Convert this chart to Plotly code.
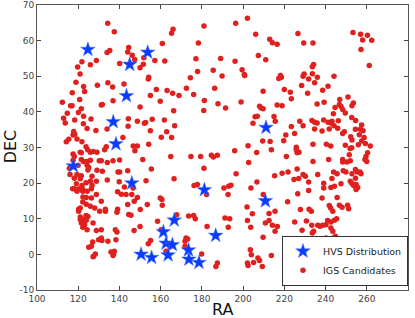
import plotly.graph_objects as go

# HVS Distribution (blue stars)
hvs_ra = [124.7, 145.0, 153.7, 143.4, 137.0, 138.3, 117.6, 146.0, 181.2, 166.6, 161.3,
          162.6, 165.7, 150.5, 155.6, 163.6, 173.5, 173.7, 178.6, 186.7, 210.8, 211.1]
hvs_dec = [57.5, 53.3, 56.7, 44.5, 37.2, 31.0, 24.8, 20.0, 18.1, 9.6, 6.3,
           3.1, 2.7, 0.0, -0.9, -0.2, 1.2, -1.4, -2.3, 5.3, 15.0, 35.6]

# IGS Candidates (red dots)
igs_ra = [
    # upper-left
    134.3, 137.5, 135.3, 134.0, 140.1, 144.5, 144.0, 146.2, 147.4, 121.8, 119.7, 125.9, 128.8,
    120.9, 118.9, 122.6, 123.1, 129.3, 134.4, 136.7, 142.2, 117.1, 112.3, 120.7, 116.3, 117.0,
    121.5, 131.7, 131.2, 136.9, 114.7, 120.1, 112.9, 113.7, 118.3, 122.6, 126.2, 144.3, 122.5,
    117.8, 124.3, 128.6, 134.0, 144.2, 117.5, 118.3, 141.7, 115.4, 114.2, 119.4, 121.8, 123.8,
    133.6,
    # upper mid-left
    166.0, 165.3, 181.0, 160.8, 178.3, 151.8, 151.6, 150.0, 157.2, 162.0, 177.1, 189.1, 185.5,
    177.9, 189.8, 154.2, 154.0, 174.4, 157.9, 163.1, 165.8, 168.9, 172.5, 176.0, 186.2, 155.0,
    159.8, 181.2, 187.8, 150.0, 166.3, 180.9, 155.9, 161.8, 148.7, 152.1, 152.7, 166.8, 155.0,
    162.9, 160.3, 165.3, 154.2, 146.7, 148.7,
    # upper mid-right
    202.1, 196.4, 206.1, 226.6, 212.9, 214.2, 216.5, 229.4, 233.9, 207.4, 211.0, 196.1, 199.5,
    200.6, 200.8, 218.1, 217.3, 218.6, 229.6, 229.1, 231.8, 234.2, 233.6, 233.6, 234.7, 228.4,
    220.0, 222.9, 231.3, 223.4, 209.7, 199.0, 191.5, 208.0, 208.7, 209.7, 216.5, 218.9, 205.8,
    206.9, 215.0, 215.6, 204.8, 227.5, 233.4, 234.7, 229.1, 223.4, 220.7, 225.0, 234.7, 209.5,
    213.1, 219.7, 202.4, 225.8, 233.9,
    # upper right
    253.3, 257.0, 260.3, 258.0, 262.4, 257.2, 261.2, 236.0, 244.1, 241.2, 238.6, 250.9, 246.9,
    239.3, 235.9, 253.5, 252.8, 246.7, 247.5, 244.6, 248.3, 249.6, 243.8, 252.7, 254.6, 239.1,
    243.1, 241.2, 242.8, 246.2, 235.9, 244.1, 241.8, 245.9, 257.5, 256.9, 258.2, 254.5, 238.3,
    249.1, 248.3, 256.4, 258.7, 252.2, 252.8, 257.5, 240.4, 242.5, 249.6, 252.7, 255.9, 259.3,
    261.7,
    # lower left
    117.5, 118.1, 121.0, 121.5, 124.6, 125.9, 127.3, 129.1, 132.8, 117.5, 121.5, 122.6, 124.3,
    125.9, 130.2, 131.2, 134.1, 136.9, 140.1, 115.7, 119.9, 124.3, 125.1, 124.7, 129.1, 131.7,
    139.3, 140.1, 144.0, 116.0, 119.4, 121.5, 118.1, 121.0, 126.7, 134.1, 123.8, 125.9, 128.8,
    119.1, 139.9, 121.8, 126.7, 142.4, 117.3, 118.1, 120.5, 122.2, 122.2, 126.4, 124.3, 119.4,
    128.8, 139.1, 140.9, 143.2, 123.9, 126.4, 122.3, 144.0, 131.2, 122.2, 123.9, 125.9, 128.0,
    133.2, 133.2, 139.1, 138.8, 120.2, 121.0, 120.2, 130.4, 144.5, 121.0, 123.8, 124.7, 122.3,
    123.9, 121.0, 127.2, 121.5, 123.1, 122.2, 124.3, 128.8, 131.2, 138.8, 138.0, 131.2, 129.9,
    131.5, 134.4, 138.3, 127.0, 126.4, 125.1, 135.9, 137.2, 136.9, 137.5, 127.5, 128.3, 127.2,
    # lower mid-left
    147.5, 151.3, 164.9, 174.7, 179.4, 184.6, 185.6, 187.5, 155.5, 181.0, 152.9, 166.5, 146.6,
    176.2, 177.8, 182.3, 146.0, 147.2, 148.7, 159.8, 160.6, 160.8, 153.5, 150.1, 145.6, 158.5,
    167.8, 173.6, 176.0, 176.8, 182.5, 150.0, 147.1, 160.2, 172.3, 173.1, 171.8, 155.1, 154.0,
    164.8, 171.8, 162.6, 179.9, 187.5, 186.8,
    # lower mid-right
    195.9, 206.6, 213.7, 221.0, 225.8, 227.1, 226.2, 233.9, 202.7, 196.6, 215.3, 218.9, 221.8,
    226.2, 229.1, 230.2, 224.7, 227.0, 231.8, 206.7, 190.7, 193.0, 194.1, 203.8, 192.7, 209.8,
    226.5, 231.8, 221.6, 201.9, 215.5, 212.6, 204.5, 227.8, 232.0, 233.1, 191.2, 193.5, 202.1,
    212.6, 210.8, 214.2, 216.6, 215.5, 225.0, 230.7, 233.3, 192.8, 203.7, 228.6, 234.2, 233.6,
    209.7, 227.5, 232.3, 232.6, 203.5, 204.0, 222.6, 213.7, 222.1, 207.2, 208.0, 205.1, 202.1,
    202.4, 209.3, 223.1,
    # lower right
    251.9, 260.4, 259.6, 251.5, 241.5, 248.3, 250.4, 252.0, 248.3, 259.1, 260.0, 236.2, 243.9,
    245.6, 248.6, 249.9, 254.5, 255.3, 256.7, 257.2, 252.8, 243.1, 254.5, 239.1, 247.5, 252.0,
    252.8, 253.6, 254.8, 255.6, 254.8, 242.6, 244.3, 239.1, 245.6, 238.3, 241.8, 242.5, 243.5,
    246.7, 248.0, 250.7, 251.2, 245.4, 244.3, 242.6, 241.0, 240.2, 236.2, 237.3, 238.6, 242.6,
    243.5, 244.8, 243.8, 240.2,
]
igs_dec = [
    # upper-left
    64.9, 62.5, 57.2, 56.7, 53.6, 58.1, 56.8, 55.9, 54.7, 54.1, 52.6, 53.2, 54.4,
    50.6, 48.3, 47.1, 45.7, 47.5, 48.2, 47.0, 47.8, 45.4, 42.7, 43.5, 41.7, 41.7,
    40.9, 42.1, 41.9, 43.1, 39.6, 39.8, 38.2, 36.9, 37.7, 38.8, 38.0, 38.1, 36.7,
    34.5, 35.3, 34.8, 35.2, 36.0, 33.5, 33.7, 32.8, 32.3, 31.6, 32.4, 31.6, 30.2,
    30.2,
    # upper mid-left
    63.2, 62.1, 64.1, 59.2, 59.3, 55.2, 53.4, 52.4, 54.4, 54.3, 54.9, 55.0, 51.7,
    51.3, 50.1, 49.7, 49.2, 49.6, 46.3, 46.0, 45.2, 44.6, 46.6, 44.9, 46.6, 44.6,
    43.0, 43.2, 42.3, 41.4, 40.3, 40.4, 37.9, 37.7, 37.4, 36.8, 37.0, 36.1, 34.7,
    34.4, 32.9, 32.8, 30.9, 30.4, 30.4,
    # upper mid-right
    66.3, 64.9, 61.8, 62.0, 60.4, 59.4, 59.0, 59.3, 59.3, 55.8, 54.6, 54.2, 51.8,
    50.5, 50.2, 50.2, 49.4, 49.7, 50.6, 50.0, 49.2, 53.3, 52.7, 50.7, 48.2, 47.4,
    46.3, 45.5, 45.2, 43.7, 45.8, 42.8, 41.1, 41.6, 41.1, 40.9, 41.9, 41.7, 38.6,
    38.8, 38.7, 37.4, 36.8, 37.4, 37.6, 37.1, 36.1, 35.9, 33.5, 33.9, 35.2, 31.8,
    31.7, 31.9, 30.5, 30.1, 30.9,
    # upper right
    62.3, 61.8, 61.5, 60.2, 60.1, 57.5, 53.0, 49.7, 50.0, 47.2, 46.1, 44.2, 43.5,
    42.7, 42.2, 42.5, 41.7, 42.1, 41.5, 41.2, 40.7, 39.7, 39.5, 38.4, 37.6, 37.7,
    37.4, 37.1, 36.8, 37.5, 36.9, 36.1, 35.2, 35.4, 36.3, 35.1, 34.7, 35.1, 34.6,
    34.4, 33.9, 33.6, 32.8, 33.0, 32.1, 31.8, 30.9, 30.4, 30.6, 29.9, 30.8, 31.1,
    30.4,
    # lower left
    28.2, 27.5, 28.7, 28.5, 29.4, 28.7, 28.9, 28.7, 29.4, 26.4, 26.6, 26.1, 26.1,
    26.4, 26.3, 26.3, 25.8, 26.3, 26.5, 24.2, 25.0, 25.0, 24.4, 23.7, 23.6, 23.3,
    23.1, 23.1, 23.5, 22.4, 22.4, 22.1, 21.4, 21.2, 21.9, 20.9, 20.1, 20.5, 20.5,
    19.8, 20.4, 19.3, 19.4, 18.9, 18.4, 18.4, 18.4, 18.3, 17.7, 18.4, 17.7, 17.7,
    16.8, 17.6, 16.9, 16.8, 16.0, 15.8, 16.1, 14.0, 14.9, 14.7, 14.1, 13.5, 13.0,
    12.7, 12.1, 12.7, 11.8, 12.7, 13.0, 12.1, 12.1, 11.2, 10.5, 10.9, 10.6, 9.8,
    9.6, 9.8, 8.8, 8.8, 8.3, 7.6, 6.9, 6.7, 6.9, 6.3, 6.9, 4.6, 4.1,
    3.9, 3.7, 4.1, 3.5, 2.3, 2.0, 0.7, 0.2, -0.3, 0.9, -0.5, 0.1, -0.7,
    # lower mid-left
    29.1, 26.6, 27.5, 27.5, 27.5, 27.8, 27.3, 27.8, 24.0, 24.2, 20.7, 21.2, 18.6,
    19.3, 19.6, 16.8, 16.8, 14.9, 16.0, 15.8, 15.4, 13.8, 14.0, 12.6, 11.0, 9.3,
    11.1, 10.8, 10.9, 10.0, 7.8, 7.8, 6.7, 6.9, 4.6, 4.3, 3.7, 3.9, 3.0,
    2.2, 2.3, 0.9, 0.1, -2.4, -3.4,
    # lower mid-right
    29.1, 28.6, 29.4, 27.5, 29.4, 28.7, 28.5, 26.1, 25.8, 22.6, 22.1, 22.8, 23.1,
    24.0, 22.4, 21.9, 21.0, 21.3, 20.3, 20.3, 18.6, 19.1, 19.4, 18.6, 16.8, 16.8,
    17.0, 17.9, 14.8, 13.3, 12.1, 11.5, 11.4, 12.6, 12.7, 12.1, 10.2, 10.0, 9.5,
    9.5, 8.8, 8.2, 7.8, 6.5, 9.1, 9.4, 8.2, 7.6, 7.6, 6.8, 6.5, 6.0,
    4.8, 2.9, 3.4, 2.5, 1.3, -0.1, 1.5, -0.3, -0.8, -1.0, -1.7, -2.3, -2.4,
    -3.1, -3.4, -2.6,
    # lower right
    29.7, 28.5, 27.5, 28.0, 26.6, 26.6, 25.9, 26.3, 25.9, 26.6, 26.1, 22.4, 23.1,
    22.6, 23.5, 23.1, 23.8, 23.1, 23.1, 22.6, 22.6, 21.3, 21.4, 20.0, 19.8, 20.5,
    19.9, 19.3, 19.6, 18.8, 18.2, 18.8, 19.1, 18.6, 16.0, 15.8, 13.7, 13.0, 12.1,
    13.8, 13.2, 13.8, 12.8, 10.0, 9.6, 9.1, 9.5, 8.3, 8.2, 7.9, 8.2, 7.4,
    6.5, 5.1, 4.6, 4.6,
]

x_ticks = [100, 120, 140, 160, 180, 200, 220, 240, 260, 280]
y_ticks = [-10, 0, 10, 20, 30, 40, 50, 60, 70]

fig = go.Figure()
fig.add_trace(go.Scatter(
    x=igs_ra, y=igs_dec, mode="markers", name="IGS Candidates",
    marker=dict(symbol="circle", size=5.5, color="#e0201e", line=dict(width=0)),
))
fig.add_trace(go.Scatter(
    x=hvs_ra, y=hvs_dec, mode="markers", name="HVS Distribution",
    marker=dict(symbol="star", size=11, color="#0a3cff",
                line=dict(width=0.5, color="#4a70ff")),
))

axis_common = dict(
    showgrid=False, zeroline=False, showline=True, linecolor="#555555", linewidth=1,
    mirror="allticks", ticks="inside", ticklen=4, tickcolor="#444444",
    tickfont=dict(family="DejaVu Sans", size=9, color="#444444"),
    automargin=False,
)
fig.update_xaxes(range=[100, 280], tickvals=x_ticks, ticktext=[str(v) for v in x_ticks],
                 **axis_common)
fig.update_yaxes(range=[-10, 70], tickvals=y_ticks, ticktext=[str(v) for v in y_ticks],
                 **axis_common)

fig.update_layout(
    width=415, height=318,
    margin=dict(l=37, r=7, t=5, b=28),
    paper_bgcolor="white", plot_bgcolor="white",
    legend=dict(
        x=1.0, y=0.015, xanchor="right", yanchor="bottom",
        traceorder="reversed",
        bgcolor="white", bordercolor="#333333", borderwidth=1,
        font=dict(family="DejaVu Sans", size=9.5, color="#222222"),
        itemsizing="trace", tracegroupgap=0, itemwidth=30,
    ),
    showlegend=True,
    annotations=[
        dict(text="RA", xref="paper", yref="paper", x=0.5, y=-0.068,
             xanchor="center", yanchor="middle", showarrow=False,
             font=dict(family="DejaVu Sans", size=16, color="#111111")),
        dict(text="DEC", xref="paper", yref="paper", x=-0.072, y=0.505,
             xanchor="center", yanchor="middle", showarrow=False, textangle=-90,
             font=dict(family="DejaVu Sans", size=16, color="#111111")),
    ],
)

fig.write_html("out.html", config={"displayModeBar": False},
               post_script="document.body.style.margin='0';")
